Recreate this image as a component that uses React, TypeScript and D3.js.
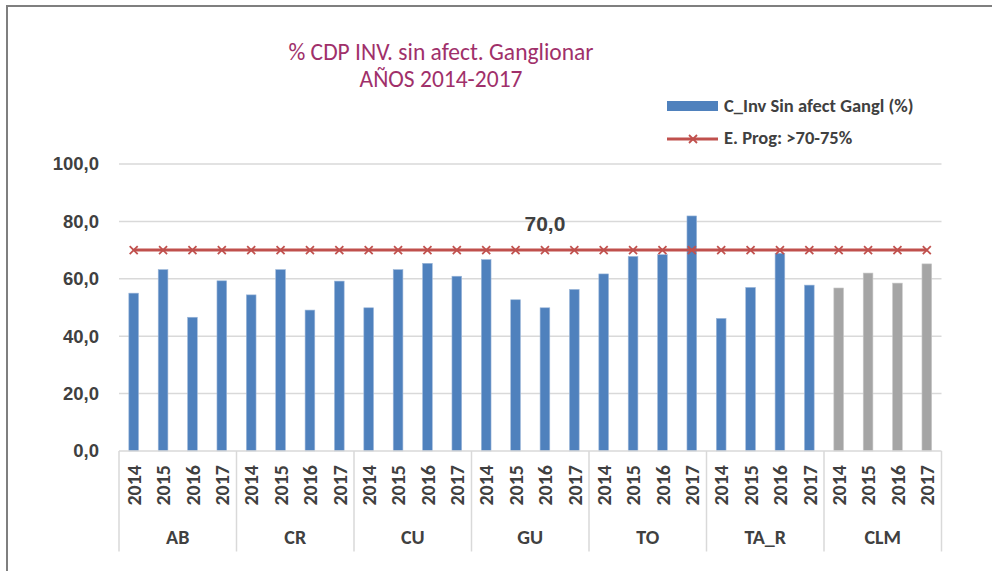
import React from "react";
import * as d3 from "d3";

const groups = ["AB", "CR", "CU", "GU", "TO", "TA_R", "CLM"];
const years = ["2014", "2015", "2016", "2017"];
const valAB = [55.0, 63.2, 46.6, 59.3];
const valCR = [54.4, 63.2, 49.1, 59.2];
const valCU = [49.9, 63.2, 65.4, 60.9];
const valGU = [66.7, 52.7, 49.9, 56.3];
const valTO = [61.7, 67.8, 68.4, 81.9];
const valTAR = [46.2, 57.0, 68.9, 57.8];
const valCLM = [56.8, 62.0, 58.5, 65.2];
const groupValues = [valAB, valCR, valCU, valGU, valTO, valTAR, valCLM];
const target = 70.0;
const yTicks = [0, 20, 40, 60, 80, 100];
const seriesName = "C_Inv Sin afect Gangl (%)";
const targetName = "E. Prog: >70-75%";
const titleLines = ["% CDP INV. sin afect. Ganglionar", "AÑOS 2014-2017"];

const W = 992;
const H = 571;
const left = 119;
const right = 941.5;
const top = 164;
const bottom = 451;

const blue = "#4F81BD";
const gray = "#A5A5A5";
const red = "#C0504D";
const textCol = "#404040";

type Row = { key: string; group: string; year: string; value: number; gi: number };

const rows: Row[] = [];
groups.forEach((g, gi) => {
  years.forEach((yr, yi) => {
    rows.push({ key: g + "-" + yr, group: g, year: yr, value: groupValues[gi][yi], gi });
  });
});

const x = d3.scaleBand<string>().domain(rows.map((r) => r.key)).range([left, right]).padding(0);
const y = d3.scaleLinear().domain([0, 100]).range([bottom, top]);
const gx = d3.scaleBand<string>().domain(groups).range([left, right]).padding(0);

const fmt = (v: number) => v.toFixed(1).replace(".", ",");

function XMark({ cx, cy }: { cx: number; cy: number }) {
  const s = 4;
  return (
    <g stroke={red} strokeWidth={1.8}>
      <line x1={cx - s} y1={cy - s} x2={cx + s} y2={cy + s} />
      <line x1={cx - s} y1={cy + s} x2={cx + s} y2={cy - s} />
    </g>
  );
}

export default function App() {
  const bw = x.bandwidth() * 0.33;
  const line = d3
    .line<Row>()
    .x((d) => (x(d.key) as number) + x.bandwidth() / 2)
    .y(() => y(target));
  const labelRow = rows[14];
  return (
    <svg width={W} height={H} style={{ position: "absolute", left: 0, top: 0 }}>
      <rect x={0} y={0} width={W} height={H} fill="#fff" />
      <line x1={7} y1={6} x2={W} y2={6} stroke="#7F7F7F" strokeWidth={2} />
      <line x1={7} y1={5} x2={7} y2={H} stroke="#7F7F7F" strokeWidth={2} />

      {titleLines.map((t, i) => (
        <text
          key={t}
          x={441}
          y={60 + i * 27}
          textAnchor="middle"
          fill="#A0306A"
          fontFamily="Carlito, Lato, 'Open Sans', sans-serif"
          fontSize={23.5}
        >
          {t}
        </text>
      ))}

      {/* legend */}
      <rect x={667} y={101} width={51} height={10} fill={blue} />
      <text x={724} y={112} fill={textCol} fontFamily="Carlito, Lato, sans-serif" fontWeight="bold" fontSize={18.5}>
        {seriesName}
      </text>
      <line x1={667} y1={139} x2={718} y2={139} stroke={red} strokeWidth={3} />
      <XMark cx={693} cy={139} />
      <text x={724} y={144} fill={textCol} fontFamily="Carlito, Lato, sans-serif" fontWeight="bold" fontSize={18.5}>
        {targetName}
      </text>

      {/* grid */}
      {yTicks.map((t) => (
        <g key={t}>
          {t > 0 && <line x1={left} x2={right} y1={y(t)} y2={y(t)} stroke="#D9D9D9" strokeWidth={1.5} />}
          <text
            x={99}
            y={y(t)}
            dy="0.35em"
            textAnchor="end"
            fill={textCol}
            fontFamily="'Liberation Sans', Arial, sans-serif"
            fontWeight="bold"
            fontSize={18.5}
          >
            {fmt(t)}
          </text>
        </g>
      ))}

      {/* bars */}
      {rows.map((r) => (
        <rect
          key={r.key}
          x={(x(r.key) as number) + (x.bandwidth() - bw) / 2}
          y={y(r.value)}
          width={bw}
          height={y(0) - y(r.value)}
          fill={r.group === "CLM" ? gray : blue}
          stroke={r.group === "CLM" ? "#C9C9C9" : "#9DB8DA"}
          strokeWidth={0.6}
        />
      ))}

      {/* target line */}
      <path d={line(rows) || ""} fill="none" stroke={red} strokeWidth={3} />
      {rows.map((r) => (
        <XMark key={"m" + r.key} cx={(x(r.key) as number) + x.bandwidth() / 2} cy={y(target)} />
      ))}
      <text
        x={(x(labelRow.key) as number) + x.bandwidth() / 2}
        y={230.5}
        textAnchor="middle"
        fill={textCol}
        fontFamily="'Liberation Sans', Arial, sans-serif"
        fontWeight="bold"
        fontSize={21}
      >
        {fmt(target)}
      </text>

      {/* category axis */}
      <line x1={left} x2={right} y1={bottom} y2={bottom} stroke="#D9D9D9" strokeWidth={1.5} />
      {[...groups.map((g) => gx(g) as number), right].map((bx, i) => (
        <line key={"v" + i} x1={bx} x2={bx} y1={bottom} y2={551.5} stroke="#D9D9D9" strokeWidth={1.5} />
      ))}
      {rows.map((r) => {
        const cx = (x(r.key) as number) + x.bandwidth() / 2;
        return (
          <text
            key={"t" + r.key}
            transform={`translate(${cx},465) rotate(-90)`}
            dy="0.36em"
            textAnchor="end"
            fill={textCol}
            fontFamily="Carlito, Lato, sans-serif"
            fontWeight="bold"
            fontSize={20}
          >
            {r.year}
          </text>
        );
      })}
      {groups.map((g) => (
        <text
          key={"g" + g}
          x={(gx(g) as number) + gx.bandwidth() / 2}
          y={544}
          textAnchor="middle"
          fill={textCol}
          fontFamily="Carlito, Lato, sans-serif"
          fontWeight="bold"
          fontSize={20}
        >
          {g}
        </text>
      ))}
    </svg>
  );
}
